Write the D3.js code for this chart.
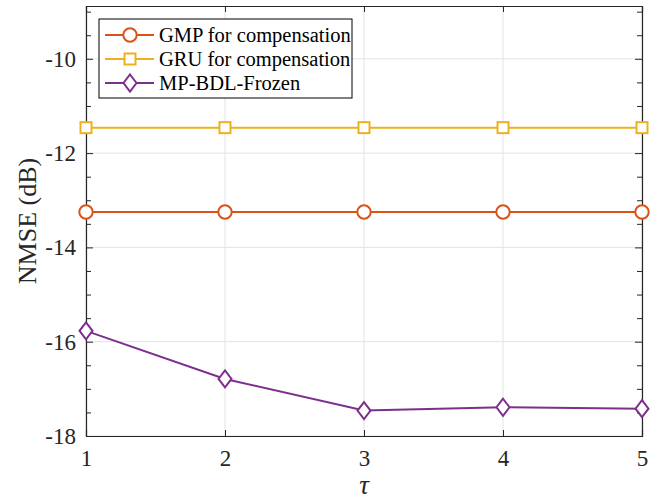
<!DOCTYPE html>
<html>
<head>
<meta charset="utf-8">
<script src="https://cdn.jsdelivr.net/npm/d3@7"></script>
<style>
  body { margin: 0; background: #fff; }
  svg { display: block; font-family: "Liberation Serif", "Times New Roman", serif; }
</style>
</head>
<body>
<svg id="chart"></svg>
<script>
// data
var tauValues = [1, 2, 3, 4, 5];
var gmpNmse = [-13.25, -13.25, -13.25, -13.25, -13.25];
var gruNmse = [-11.46, -11.46, -11.46, -11.46, -11.46];
var bdlNmse = [-15.77, -16.79, -17.46, -17.39, -17.42];
var yTicks = [-18, -16, -14, -12, -10];
var seriesNames = ["GMP for compensation", "GRU for compensation", "MP-BDL-Frozen"];

var W = 662, H = 500;
var margin = {top: 6, right: 20, bottom: 64, left: 86};
var width = W - margin.left - margin.right;
var height = H - margin.top - margin.bottom;

var svg = d3.select("#chart").attr("width", W).attr("height", H);
var g = svg.append("g").attr("transform", "translate(" + margin.left + "," + margin.top + ")");

var x = d3.scaleLinear().domain([1, 5]).range([0, width]);
var y = d3.scaleLinear().domain([-18, -8.88]).range([height, 0]);

var axisColor = "#262626";
var gridColor = "#e3e3e3";

// grid
g.append("g").selectAll("line.gx")
    .data(tauValues)
    .enter().append("line")
    .attr("x1", d => x(d)).attr("x2", d => x(d))
    .attr("y1", 0).attr("y2", height)
    .attr("stroke", gridColor).attr("stroke-width", 1);
g.append("g").selectAll("line.gy")
    .data(yTicks)
    .enter().append("line")
    .attr("x1", 0).attr("x2", width)
    .attr("y1", d => y(d)).attr("y2", d => y(d))
    .attr("stroke", gridColor).attr("stroke-width", 1);

// axes (ticks point inward, matlab style)
var minorY = d3.range(-18, -8.9, 0.5);
var xAxisB = d3.axisBottom(x).tickValues(tauValues).tickSize(-6).tickPadding(14).tickFormat(d3.format("d"));
var xAxisT = d3.axisTop(x).tickValues(tauValues).tickSize(-6).tickFormat("");
var yAxisL = d3.axisLeft(y).tickValues(minorY).tickSize(-5).tickPadding(10)
    .tickFormat(d => (d % 2 === 0 ? d3.format("d")(d).replace("−", "-") : ""));
var yAxisR = d3.axisRight(y).tickValues(minorY).tickSize(-5).tickFormat("");

g.append("g").attr("transform", "translate(0," + height + ")").call(xAxisB);
g.append("g").call(xAxisT);
g.append("g").call(yAxisL);
g.append("g").attr("transform", "translate(" + width + ",0)").call(yAxisR);

g.selectAll(".domain").attr("stroke", axisColor).attr("stroke-width", 1.2);
g.selectAll(".tick line").attr("stroke", axisColor).attr("stroke-width", 1);
g.selectAll(".tick text").attr("fill", axisColor).style("font-size", "23px")
    .style("font-family", "'Liberation Serif', 'Times New Roman', serif");
// major y ticks a bit longer
g.selectAll(".tick").filter(d => yTicks.indexOf(d) >= 0).select("line").attr("x2", function() {
    return +d3.select(this).attr("x2") > 0 ? 7 : -7;
});

// axis labels
svg.append("text")
    .attr("x", margin.left + width / 2).attr("y", 494)
    .attr("text-anchor", "middle")
    .style("font-size", "27px").style("font-style", "italic")
    .attr("fill", axisColor)
    .text("τ");
svg.append("text")
    .attr("transform", "translate(36," + (margin.top + height / 2) + ") rotate(-90)")
    .attr("text-anchor", "middle")
    .style("font-size", "26px")
    .attr("fill", axisColor)
    .text("NMSE (dB)");

var series = [
    {name: seriesNames[0], values: gmpNmse, color: "#D95319", marker: "circle"},
    {name: seriesNames[1], values: gruNmse, color: "#EDB120", marker: "square"},
    {name: seriesNames[2], values: bdlNmse, color: "#7E2F8E", marker: "diamond"}
];

function drawMarker(sel, type, color) {
    if (type === "circle") {
        sel.append("circle").attr("r", 6.7);
    } else if (type === "square") {
        sel.append("rect").attr("x", -5.5).attr("y", -5.5).attr("width", 11).attr("height", 11);
    } else {
        sel.append("path").attr("d", "M0,-8.5L6.5,0L0,8.5L-6.5,0Z");
    }
    sel.selectAll("circle,rect,path").attr("fill", "#fff").attr("stroke", color).attr("stroke-width", 2);
}

var line = d3.line().x((d, i) => x(tauValues[i])).y(d => y(d));

series.forEach(function(s) {
    g.append("path").datum(s.values)
        .attr("d", line)
        .attr("fill", "none")
        .attr("stroke", s.color)
        .attr("stroke-width", 2);
    g.selectAll(null).data(s.values).enter().append("g")
        .attr("transform", (d, i) => "translate(" + x(tauValues[i]) + "," + y(d) + ")")
        .each(function() { drawMarker(d3.select(this), s.marker, s.color); });
});

// legend
var legend = svg.append("g").attr("transform", "translate(99,19)");
legend.append("rect")
    .attr("width", 253).attr("height", 79)
    .attr("fill", "#fff").attr("stroke", "#000").attr("stroke-width", 1);
series.forEach(function(s, i) {
    var row = legend.append("g").attr("transform", "translate(0," + (16 + i * 24) + ")");
    row.append("line").attr("x1", 6).attr("x2", 55).attr("y1", 0).attr("y2", 0)
        .attr("stroke", s.color).attr("stroke-width", 2);
    var m = row.append("g").attr("transform", "translate(31,0)");
    drawMarker(m, s.marker, s.color);
    row.append("text").attr("x", 60).attr("y", 7)
        .style("font-size", "20.5px").attr("fill", "#000")
        .text(s.name);
});
</script>
</body>
</html>
